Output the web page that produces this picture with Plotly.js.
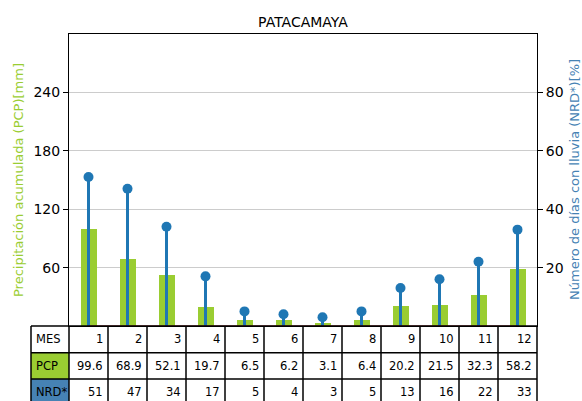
<!DOCTYPE html>
<html>
<head>
<meta charset="utf-8">
<script src="https://cdn.plot.ly/plotly-3.0.1.min.js"></script>
<style>html,body{margin:0;padding:0;overflow:hidden;background:#fff}#chart{width:582px;height:401px}</style>
</head>
<body>
<div id="chart"></div>
<script>
// ---- data ----
const months = [1, 2, 3, 4, 5, 6, 7, 8, 9, 10, 11, 12];
const pcp = [99.6, 68.9, 52.1, 19.7, 6.5, 6.2, 3.1, 6.4, 20.2, 21.5, 32.3, 58.2];
const nrd = [51, 47, 34, 17, 5, 4, 3, 5, 13, 16, 22, 33];
const rowLabels = ['MES', 'PCP', 'NRD*'];
const pcpTicks = [60, 120, 180, 240];
const nrdTicks = [20, 40, 60, 80];
const chartTitle = 'PATACAMAYA';
const leftTitle = 'Precipitación acumulada (PCP)[mm]';
const rightTitle = 'Número de días con lluvia (NRD*)[%]';

// ---- geometry (pixels) ----
const W = 582, H = 401;
const plotL = 69, plotR = 537, plotT = 34, plotB = 326;
const tabL = 31;
const rowY = [326, 352.7, 379, 405.5];
const px = v => v / W;
const py = v => 1 - v / H;
const colW = (plotR - plotL) / months.length;

const green = '#9acd32', steel = '#4682b4', c0 = '#1f77b4', c3 = '#d62728';

const traces = [
  {type: 'bar', x: months, y: pcp, width: 0.41, marker: {color: green, line: {width: 0}}, xaxis: 'x', yaxis: 'y', hoverinfo: 'skip'},
  {type: 'scatter', mode: 'lines', x: [months[0], months[months.length - 1]], y: [0, 0], line: {color: c3, width: 1.2}, xaxis: 'x', yaxis: 'y2', hoverinfo: 'skip'},
  {type: 'bar', x: months, y: nrd, width: 0.055, marker: {color: c0, line: {width: 0}}, xaxis: 'x', yaxis: 'y2', hoverinfo: 'skip'},
  {type: 'scatter', mode: 'markers', x: months, y: nrd, marker: {color: c0, size: 10}, xaxis: 'x', yaxis: 'y2', cliponaxis: false, hoverinfo: 'skip'}
];

const shapes = [];
// label cell fills
shapes.push({type: 'rect', xref: 'paper', yref: 'paper', x0: px(tabL), x1: px(plotL), y0: py(rowY[1]), y1: py(rowY[2]), fillcolor: green, line: {width: 0}});
shapes.push({type: 'rect', xref: 'paper', yref: 'paper', x0: px(tabL), x1: px(plotL), y0: py(rowY[2]), y1: py(rowY[3]), fillcolor: steel, line: {width: 0}});
// horizontal lines
rowY.forEach(y => shapes.push({type: 'line', xref: 'paper', yref: 'paper', x0: px(tabL), x1: px(plotR), y0: py(y), y1: py(y), line: {color: '#000', width: 1.5}}));
// vertical lines
const vx = [tabL, plotL];
months.forEach((m, i) => vx.push(plotL + colW * (i + 1)));
vx.forEach(x => shapes.push({type: 'line', xref: 'paper', yref: 'paper', x0: px(x), x1: px(x), y0: py(rowY[0]), y1: py(rowY[3]), line: {color: '#000', width: 1.5}}));

const annotations = [];
const tfont = {family: 'DejaVu Sans', size: 11.5, color: '#000'};
rowLabels.forEach((lab, r) => {
  annotations.push({xref: 'paper', yref: 'paper', x: px(tabL + 3), y: py((rowY[r] + rowY[r + 1]) / 2), text: lab, showarrow: false, xanchor: 'left', yanchor: 'middle', font: tfont});
});
const rows = [months.map(String), pcp.map(v => v.toFixed(1)), nrd.map(String)];
rows.forEach((vals, r) => {
  vals.forEach((v, i) => {
    annotations.push({xref: 'x', yref: 'paper', x: months[i] + 0.5, xshift: -3, y: py((rowY[r] + rowY[r + 1]) / 2), text: v, showarrow: false, xanchor: 'right', yanchor: 'middle', font: tfont});
  });
});
// axis titles
annotations.push({xref: 'paper', yref: 'paper', x: px(18), y: py((plotT + plotB) / 2), text: leftTitle, textangle: -90, showarrow: false, xanchor: 'center', yanchor: 'middle', font: {family: 'DejaVu Sans', size: 13, color: green}});
annotations.push({xref: 'paper', yref: 'paper', x: px(574), y: py((plotT + plotB) / 2), text: rightTitle, textangle: -90, showarrow: false, xanchor: 'center', yanchor: 'middle', font: {family: 'DejaVu Sans', size: 13, color: steel}});

const layout = {
  width: W, height: H,
  margin: {l: 0, r: 0, t: 0, b: 0, pad: 0},
  paper_bgcolor: '#fff', plot_bgcolor: '#fff',
  font: {family: 'DejaVu Sans', color: '#000'},
  showlegend: false,
  bargap: 0, barmode: 'overlay',
  title: {text: chartTitle, font: {family: 'DejaVu Sans', size: 14, color: '#000'}, xref: 'paper', yref: 'paper', x: px((plotL + plotR) / 2), xanchor: 'center', y: py(22), yanchor: 'middle'},
  xaxis: {domain: [px(plotL), px(plotR)], range: [0.5, 12.5], showticklabels: false, ticks: '', showgrid: false, zeroline: false, showline: true, linecolor: '#000', linewidth: 1, mirror: true, fixedrange: true},
  yaxis: {domain: [py(plotB), py(plotT)], range: [0, 300], tickvals: pcpTicks, ticktext: pcpTicks.map(String), ticks: 'outside', ticklen: 5, tickwidth: 1, tickcolor: '#000', tickfont: {size: 14, color: '#000'}, showgrid: true, gridcolor: '#cccccc', gridwidth: 1, zeroline: false, showline: true, linecolor: '#000', linewidth: 1, mirror: true, automargin: false, fixedrange: true},
  yaxis2: {domain: [py(plotB), py(plotT)], overlaying: 'y', side: 'right', range: [0, 100], tickvals: nrdTicks, ticktext: nrdTicks.map(String), ticks: 'outside', ticklen: 5, tickwidth: 1, tickcolor: '#000', tickfont: {size: 14, color: '#000'}, showgrid: false, zeroline: false, showline: false, automargin: false, fixedrange: true},
  shapes: shapes,
  annotations: annotations
};

Plotly.newPlot('chart', traces, layout, {displayModeBar: false, staticPlot: true});
</script>
</body>
</html>
